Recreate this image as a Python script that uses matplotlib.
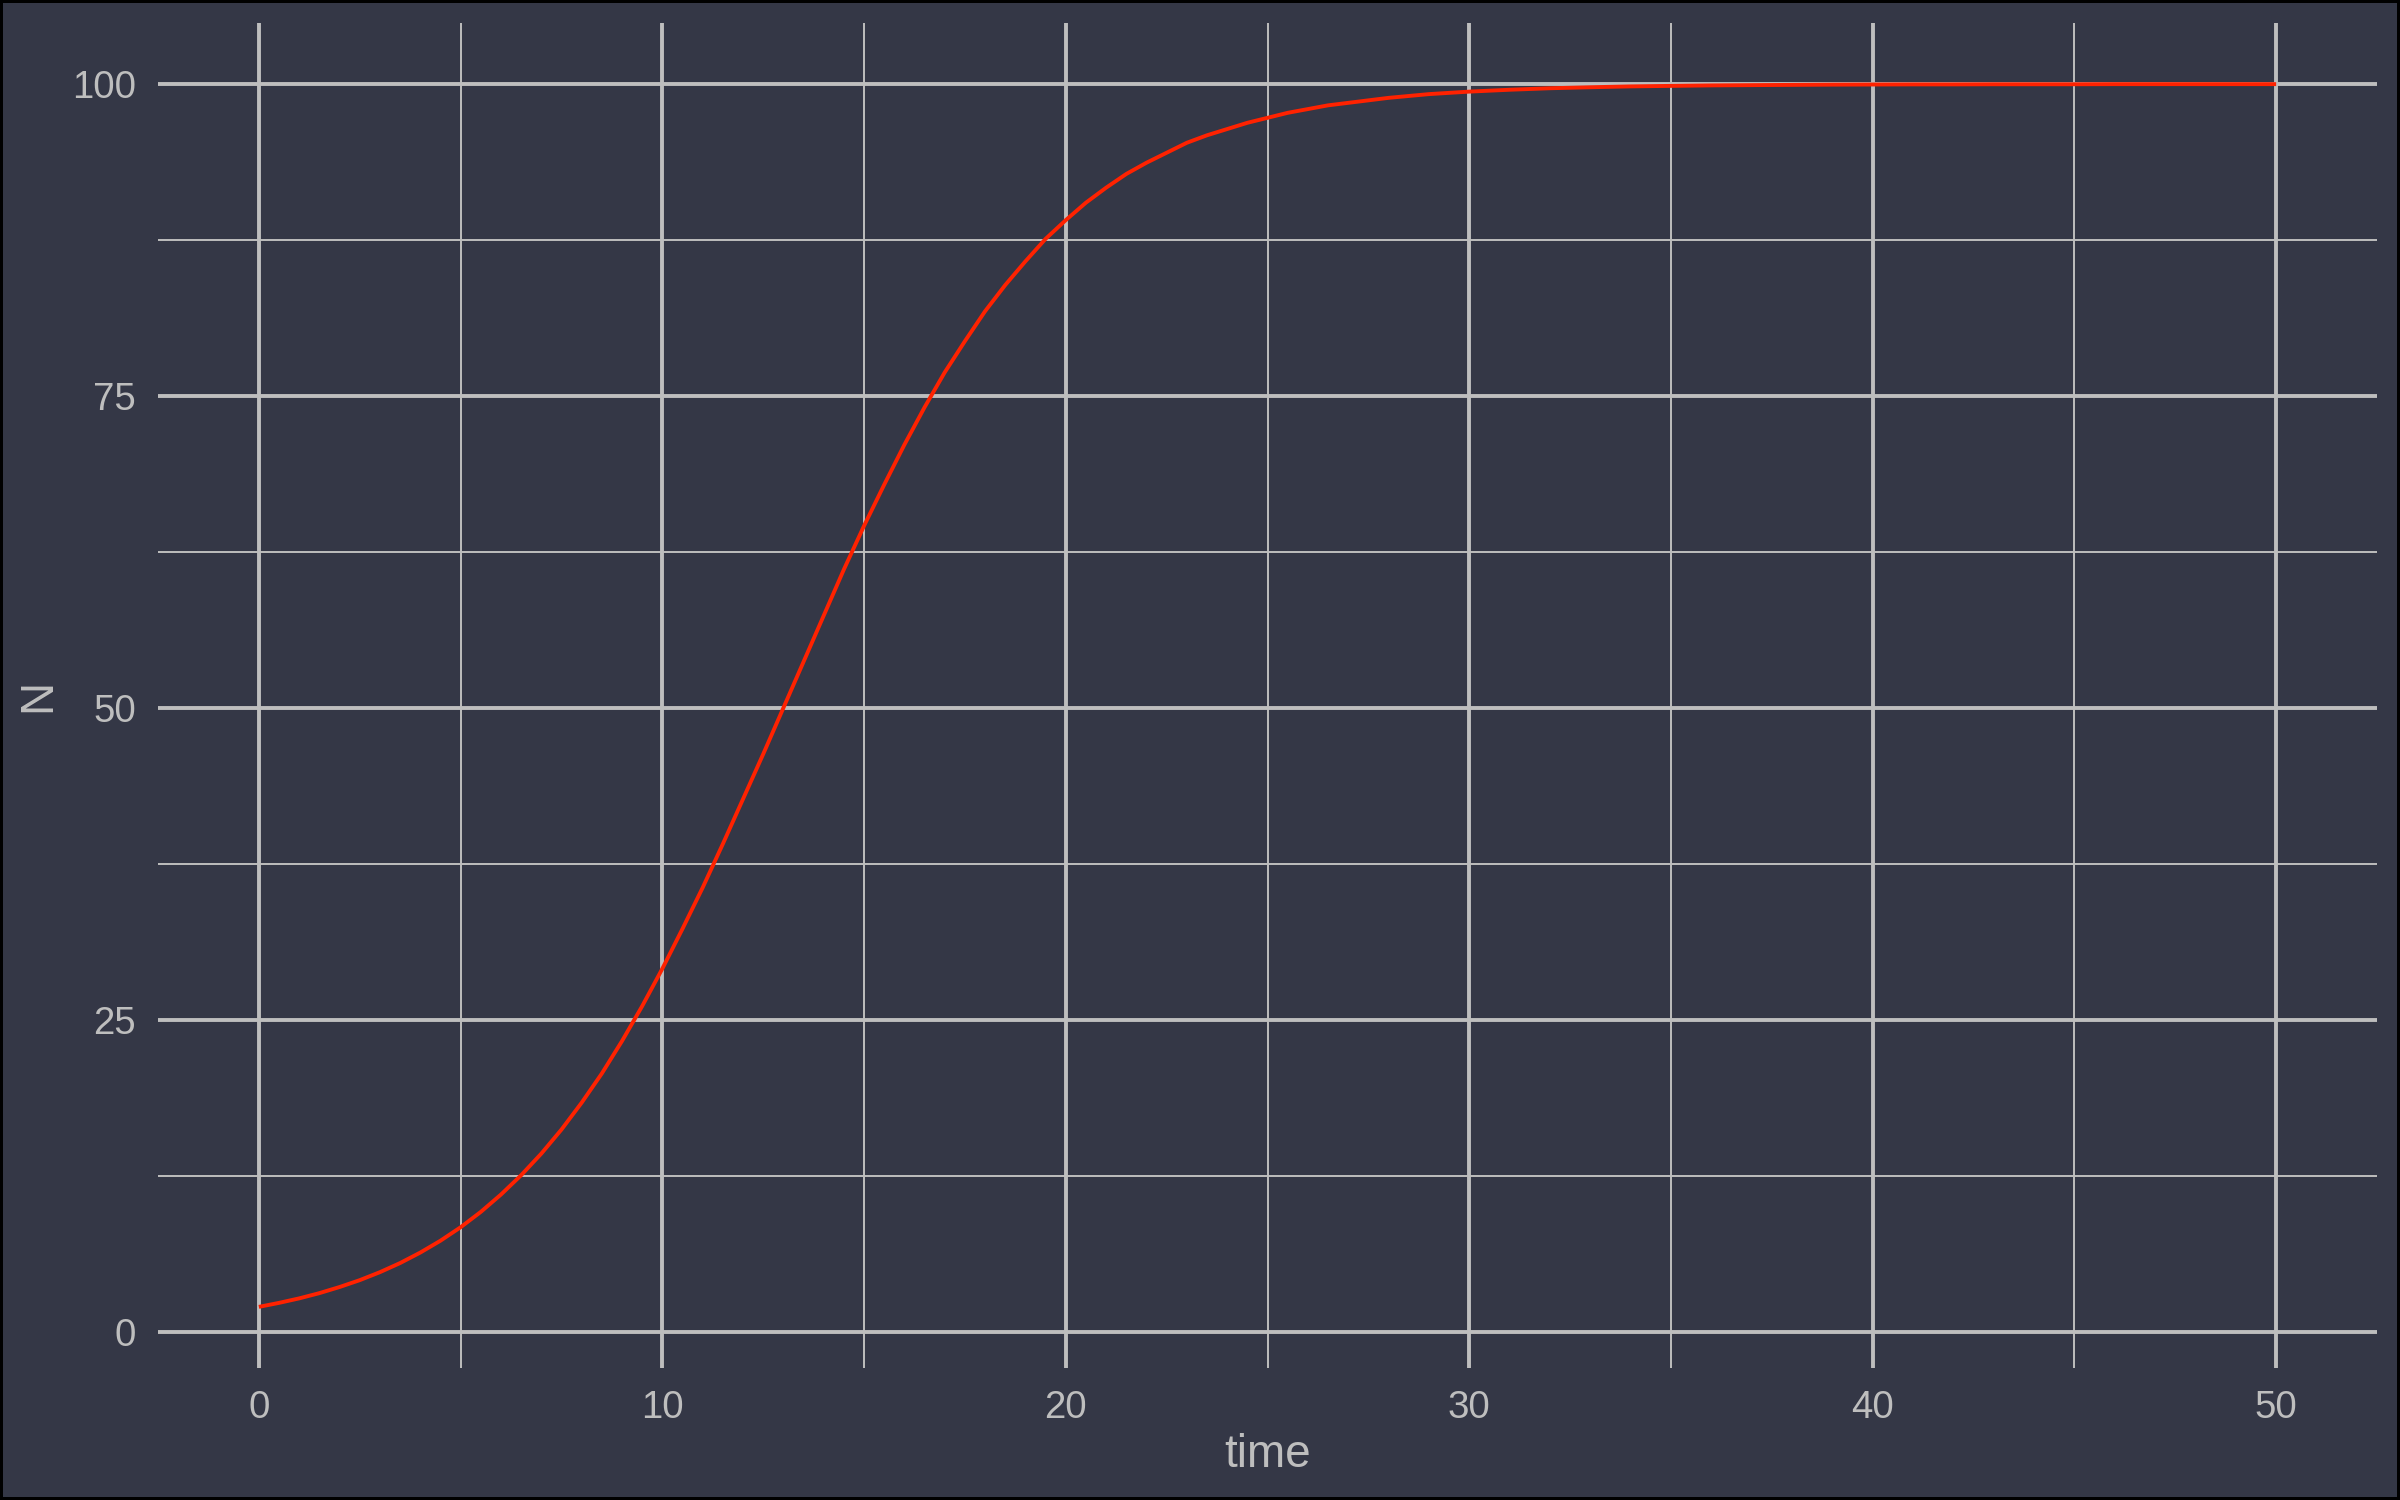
import matplotlib
matplotlib.use('Agg')
import matplotlib.pyplot as plt
from matplotlib.ticker import MultipleLocator

plt.rcParams['font.family'] = ['Liberation Sans', 'DejaVu Sans']

# logistic growth values
# (half-step readings up to t=30, whole steps after that)
time = [0, 0.5, 1, 1.5, 2, 2.5, 3, 3.5, 4, 4.5,
        5, 5.5, 6, 6.5, 7, 7.5, 8, 8.5, 9, 9.5,
        10, 10.5, 11, 11.5, 12, 12.5, 13, 13.5, 14, 14.5,
        15, 15.5, 16, 16.5, 17, 17.5, 18, 18.5, 19, 19.5,
        20, 20.5, 21, 21.5, 22, 22.5, 23, 23.5, 24, 24.5,
        25, 25.5, 26, 26.5, 27, 27.5, 28, 28.5, 29, 29.5,
        30, 31, 32, 33, 34, 35, 36, 37, 38, 39,
        40, 41, 42, 43, 44, 45, 46, 47, 48, 49, 50]
N = [2.0, 2.32, 2.68, 3.1, 3.59, 4.14, 4.78, 5.51, 6.35, 7.3,
     8.38, 9.61, 11.0, 12.55, 14.28, 16.21, 18.36, 20.7, 23.3, 26.1,
     29.1, 32.3, 35.6, 39.1, 42.7, 46.3, 50.0, 53.7, 57.4, 61.1,
     64.6, 67.9, 71.1, 74.1, 76.9, 79.4, 81.8, 83.9, 85.8, 87.6,
     89.1, 90.5, 91.7, 92.8, 93.7, 94.5, 95.3, 95.9, 96.4, 96.9,
     97.3, 97.7, 98.0, 98.3, 98.5, 98.7, 98.9, 99.05, 99.2, 99.3,
     99.4, 99.55, 99.67, 99.75, 99.82, 99.86, 99.9, 99.92, 99.94, 99.96,
     99.97, 99.98, 99.98, 99.99, 99.99, 99.99, 100.0, 100.0, 100.0, 100.0,
     100.0]

bg = '#343746'
grid_col = '#bebebe'
text_col = '#bebebe'

fig = plt.figure(figsize=(12, 7.5), dpi=200, facecolor=bg)
fig.patch.set_edgecolor('black')
fig.patch.set_linewidth(2)
ax = fig.add_axes([158 / 2400, 1 - 1368 / 1500, 2219 / 2400, 1345 / 1500])
ax.set_facecolor(bg)

ax.plot(time, N, color='#ff2200', lw=1.4, zorder=3,
        solid_joinstyle='round', solid_capstyle='butt')

# ggplot-style 5% expansion
x0, x1 = min(time), max(time)
y0, y1 = min(N), max(N)
ax.set_xlim(x0 - 0.05 * (x1 - x0), x1 + 0.05 * (x1 - x0))
ax.set_ylim(y0 - 0.05 * (y1 - y0), y1 + 0.05 * (y1 - y0))

ax.xaxis.set_major_locator(MultipleLocator(10))
ax.xaxis.set_minor_locator(MultipleLocator(5))
ax.yaxis.set_major_locator(MultipleLocator(25))
ax.yaxis.set_minor_locator(MultipleLocator(12.5))

ax.grid(True, which='major', color=grid_col, lw=1.4)
ax.grid(True, which='minor', color=grid_col, lw=0.7)
ax.set_axisbelow(True)
for s in ax.spines.values():
    s.set_visible(False)

ax.tick_params(which='both', length=0, labelsize=13.8, colors=text_col, pad=7.9)

ax.set_xlabel('time', fontsize=16.5, color=text_col)
ax.xaxis.set_label_coords(0.5, -99 / 1345)
ax.xaxis.label.set_va('baseline')
ax.set_ylabel('N', fontsize=16.5, color=text_col)
ax.yaxis.set_label_coords(-120 / 2219, 0.5)
ax.yaxis.label.set_va('center')

fig.savefig('out.png', dpi=200, facecolor=bg, edgecolor='black')
